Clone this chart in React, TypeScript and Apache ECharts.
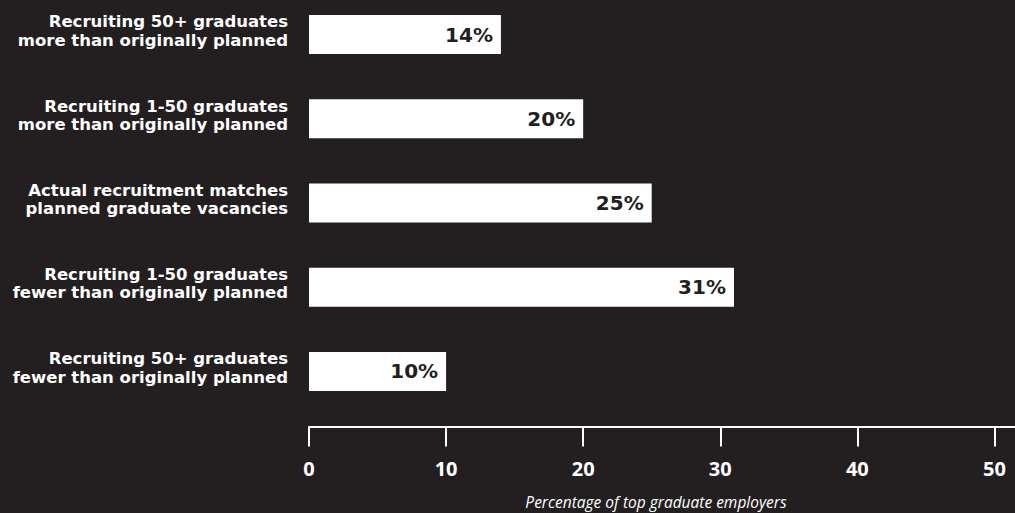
import React, { useEffect, useRef } from "react";
import * as echarts from "echarts";

const categories: string[] = [
  "Recruiting 50+ graduates\nmore than originally planned",
  "Recruiting 1-50 graduates\nmore than originally planned",
  "Actual recruitment matches\nplanned graduate vacancies",
  "Recruiting 1-50 graduates\nfewer than originally planned",
  "Recruiting 50+ graduates\nfewer than originally planned",
];
const values: number[] = [14, 20, 25, 31, 10];
const tickValues: number[] = [0, 10, 20, 30, 40, 50];
const axisTitle = "Percentage of top graduate employers";

const BG = "#231f20";
const FONT = "'Open Sans', 'Noto Sans', sans-serif";
const WIDE = "'DejaVu Sans', 'Open Sans', sans-serif";
const SHIFT = 8;

export default function App() {
  const ref = useRef<HTMLDivElement>(null);
  useEffect(() => {
    document.body.style.margin = "0";
    if (!ref.current) return;
    const chart = echarts.init(ref.current, undefined, { renderer: "svg" });
    chart.setOption({
      animation: false,
      backgroundColor: BG,
      textStyle: { fontFamily: FONT },
      title: {
        text: axisTitle,
        left: 651,
        top: 489 + SHIFT,
        textAlign: "center",
        textStyle: {
          color: "#ffffff",
          fontStyle: "italic",
          fontWeight: "normal",
          fontSize: 15.5,
          fontFamily: FONT,
        },
      },
      grid: { left: 309, right: 0, top: SHIFT - 7.6, bottom: 99.4, containLabel: false },
      xAxis: {
        type: "value",
        min: 0,
        max: 51.5,
        interval: 10,
        offset: 13,
        axisLine: { show: true, lineStyle: { color: "#ffffff", width: 2 } },
        axisTick: {
          show: true,
          inside: false,
          length: 20,
          customValues: tickValues,
          lineStyle: { color: "#ffffff", width: 2 },
        },
        axisLabel: {
          customValues: tickValues,
          margin: 32,
          color: "#ffffff",
          fontWeight: "bold",
          fontSize: 20,
          fontFamily: FONT,
        },
        splitLine: { show: false },
      },
      yAxis: {
        type: "category",
        inverse: true,
        data: categories,
        axisLine: { show: false },
        axisTick: { show: false },
        axisLabel: {
          color: "#ffffff",
          fontWeight: "bold",
          fontSize: 16.5,
          lineHeight: 18.5,
          margin: 21,
          align: "right",
          fontFamily: WIDE,
          formatter: (v: string) => v + "\n{s|}",
          rich: { s: { lineHeight: 7, fontSize: 1 } },
        },
      },
      series: [
        {
          type: "bar",
          data: values,
          barWidth: 39,
          itemStyle: { color: "#ffffff" },
          label: {
            show: true,
            position: "insideRight",
            distance: 8,
            formatter: "{c}%",
            color: BG,
            fontWeight: "bold",
            fontSize: 20,
            fontFamily: WIDE,
          },
        },
      ],
    });
    return () => chart.dispose();
  }, []);
  return (
    <div
      ref={ref}
      style={{ position: "absolute", left: 0, top: -SHIFT, width: 1015, height: 513 + SHIFT }}
    />
  );
}
